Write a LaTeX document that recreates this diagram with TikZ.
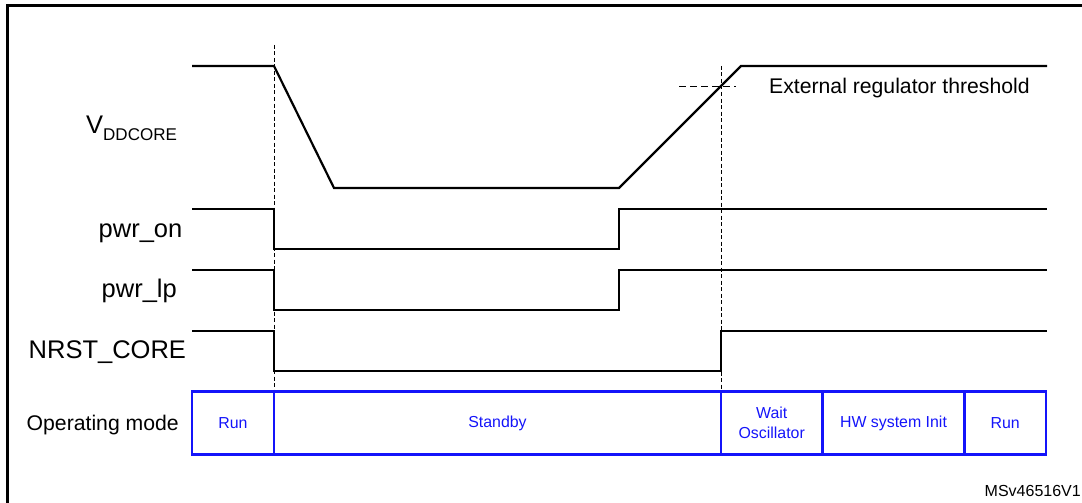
\documentclass[tikz,border=0pt]{standalone}
\usepackage{fontspec}
\setmainfont{Liberation Sans}
\definecolor{modeblue}{RGB}{20,20,250}
\begin{document}
\begin{tikzpicture}[x=1pt,y=-1pt,
  sig/.style={line width=2.2pt, line join=miter},
  guide/.style={line width=0.9pt, dash pattern=on 4pt off 2.5pt},
  thr/.style={line width=0.9pt, dash pattern=on 7pt off 4pt},
  lbl/.style={anchor=base west, inner sep=0pt, font=\fontsize{25.5}{28}\selectfont},
  lblsmall/.style={anchor=base west, inner sep=0pt, font=\fontsize{21.2}{24}\selectfont},
  modebox/.style={draw=modeblue, line width=2.2pt, rectangle, minimum height=63pt,
     inner sep=0pt, text=modeblue, align=center, font=\fontsize{15.9}{19.7}\selectfont}]
\clip (0,0) rectangle (1082,503);
% frame
\draw[line width=3pt] (7,520) -- (7,6) -- (1095,6);
% labels
\node[lbl] (vdd) at (86,133.3) {V\raisebox{-0.28em}{\fontsize{17}{19}\selectfont DDCORE}};
\node[lbl] (pwron) at (98.5,237.7) {pwr\_on};
\node[lbl] (pwrlp) at (101.5,297) {pwr\_lp};
\node[lbl] (nrst) at (28.5,358.3) {NRST\_CORE};
\node[lblsmall] (opmode) at (26.5,430) {Operating mode};
\node[lblsmall] (thrtxt) at (769,93.3) {External regulator threshold};
\node[anchor=base east, inner sep=0pt, font=\fontsize{16}{18}\selectfont] (ref) at (1081,496) {MSv46516V1};
% guide lines
\coordinate (g1top) at (274,45);
\coordinate (g1bot) at (274,391);
\coordinate (g2top) at (721,66);
\coordinate (g2bot) at (721,391);
\coordinate (thl) at (679,86.7);
\coordinate (thr) at (736,86.7);
\draw[guide] (g1top) -- (g1bot);
\draw[guide] (g2top) -- (g2bot);
\draw[thr] (thl) -- (thr);
% waveforms
\draw[sig] (192,66) -- (274,66) -- (334,188) -- (619,188) -- (741,66) -- (1047,66);
\draw[sig] (192,209) -- (274,209) -- (274,249) -- (619,249) -- (619,209) -- (1047,209);
\draw[sig] (192,270) -- (274,270) -- (274,310) -- (619,310) -- (619,270) -- (1047,270);
\draw[sig] (192,331) -- (274,331) -- (274,371) -- (721,371) -- (721,331) -- (1047,331);
% operating mode boxes
\node[modebox, minimum width=82pt] (run1) at (233,423) {Run};
\node[modebox, minimum width=447pt] (stby) at (497.5,423) {Standby};
\node[modebox, minimum width=101.5pt] (wait) at (771.75,423) {Wait\\Oscillator};
\node[modebox, minimum width=142pt] (hw) at (893.5,423) {HW system Init};
\node[modebox, minimum width=81.5pt] (run2) at (1005.25,423) {Run};
\end{tikzpicture}
\end{document}
